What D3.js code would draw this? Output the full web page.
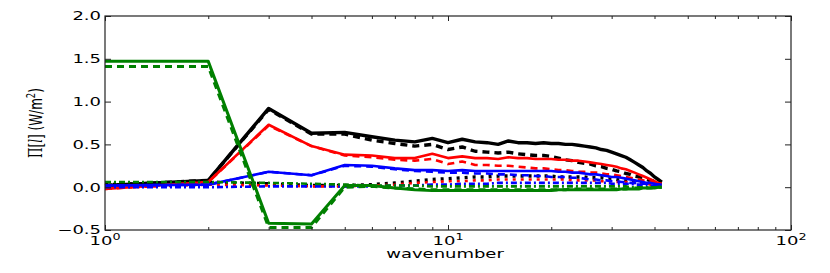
<!DOCTYPE html>
<html>
<head>
<meta charset="utf-8">
<script src="https://cdn.jsdelivr.net/npm/d3@7"></script>
<style>
  html, body { margin: 0; padding: 0; background: #fff; }
  svg { display: block; }
  text { font-family: "DejaVu Sans", sans-serif; fill: #000; }
</style>
</head>
<body>
<svg id="chart" width="830" height="273"></svg>
<script>
// ---------------- data ----------------
const wavenumbers = d3.range(1, 43); // 1..42

const blackSolid = [0.02,0.08,0.92,0.63,0.64,0.59,0.55,0.53,0.57,0.52,0.56,0.53,0.52,0.50,0.54,0.52,0.52,0.51,0.52,0.51,0.51,0.50,0.50,0.49,0.48,0.47,0.46,0.44,0.43,0.41,0.39,0.37,0.35,0.32,0.29,0.26,0.23,0.19,0.16,0.12,0.09,0.06];
const blackDashed = [0.02,0.08,0.91,0.62,0.62,0.55,0.51,0.48,0.50,0.44,0.47,0.42,0.41,0.40,0.41,0.39,0.38,0.37,0.37,0.36,0.34,0.32,0.31,0.29,0.28,0.27,0.25,0.24,0.22,0.21,0.19,0.18,0.16,0.15,0.13,0.12,0.11,0.09,0.08,0.07,0.06,0.05];
const blackDotted = [0.03,0.06,0.04,0.02,0.02,0.03,0.05,0.07,0.09,0.10,0.11,0.12,0.12,0.13,0.13,0.13,0.13,0.13,0.13,0.13,0.12,0.12,0.12,0.12,0.12,0.11,0.11,0.11,0.10,0.10,0.09,0.09,0.08,0.08,0.07,0.06,0.06,0.05,0.05,0.04,0.04,0.03];

const redSolid = [-0.02,0.06,0.73,0.48,0.38,0.37,0.34,0.34,0.39,0.34,0.36,0.34,0.34,0.33,0.35,0.34,0.34,0.33,0.33,0.33,0.32,0.32,0.31,0.31,0.30,0.29,0.28,0.27,0.26,0.25,0.24,0.22,0.21,0.19,0.17,0.15,0.13,0.11,0.09,0.07,0.05,0.04];
const redDashed = [-0.02,0.06,0.72,0.48,0.37,0.35,0.32,0.31,0.33,0.27,0.30,0.26,0.26,0.25,0.25,0.24,0.23,0.22,0.22,0.21,0.20,0.20,0.19,0.18,0.18,0.17,0.17,0.16,0.15,0.15,0.14,0.13,0.12,0.11,0.10,0.09,0.08,0.07,0.06,0.05,0.04,0.04];
const redDotted = [-0.01,0.03,0.02,0.01,0.01,0.02,0.03,0.05,0.06,0.07,0.07,0.08,0.08,0.09,0.09,0.09,0.09,0.09,0.09,0.09,0.09,0.09,0.08,0.08,0.08,0.08,0.08,0.07,0.07,0.07,0.06,0.06,0.06,0.05,0.05,0.05,0.04,0.04,0.03,0.03,0.03,0.02];

const blueSolid = [0.02,0.03,0.18,0.14,0.26,0.25,0.22,0.20,0.20,0.19,0.20,0.19,0.19,0.19,0.19,0.19,0.19,0.19,0.19,0.19,0.18,0.18,0.17,0.17,0.16,0.15,0.15,0.14,0.13,0.12,0.12,0.11,0.10,0.09,0.08,0.07,0.06,0.05,0.05,0.04,0.03,0.03];
const blueDashed = [0.02,0.03,0.18,0.14,0.25,0.24,0.21,0.19,0.18,0.17,0.17,0.16,0.16,0.15,0.15,0.14,0.14,0.13,0.13,0.12,0.12,0.12,0.11,0.11,0.10,0.09,0.09,0.08,0.08,0.07,0.07,0.06,0.06,0.05,0.05,0.05,0.04,0.04,0.04,0.03,0.03,0.03];
const blueDotted = [0.00,0.00,0.01,0.01,0.01,0.01,0.02,0.02,0.03,0.03,0.04,0.04,0.04,0.05,0.05,0.05,0.05,0.05,0.05,0.05,0.05,0.05,0.05,0.05,0.05,0.05,0.05,0.05,0.05,0.04,0.04,0.04,0.04,0.04,0.03,0.03,0.03,0.03,0.02,0.02,0.02,0.02];

const greenSolid = [1.47,1.47,-0.42,-0.43,0.02,0.02,-0.01,-0.03,-0.04,-0.04,-0.04,-0.04,-0.04,-0.04,-0.04,-0.04,-0.04,-0.04,-0.04,-0.04,-0.03,-0.03,-0.03,-0.03,-0.03,-0.03,-0.03,-0.03,-0.03,-0.03,-0.03,-0.02,-0.02,-0.02,-0.02,-0.02,-0.01,-0.01,-0.01,-0.01,0.00,0.00];
const greenDashed = [1.41,1.41,-0.47,-0.47,0.00,0.01,-0.01,-0.02,-0.03,-0.03,-0.03,-0.03,-0.03,-0.03,-0.03,-0.03,-0.03,-0.03,-0.03,-0.03,-0.03,-0.03,-0.02,-0.02,-0.02,-0.02,-0.02,-0.02,-0.02,-0.02,-0.02,-0.02,-0.02,-0.01,-0.01,-0.01,-0.01,-0.01,-0.01,0.00,0.00,0.00];
const greenDotted = [0.06,0.06,0.05,0.04,0.03,0.02,0.02,0.02,0.01,0.01,0.01,0.01,0.01,0.01,0.01,0.01,0.01,0.01,0.01,0.01,0.01,0.01,0.01,0.01,0.01,0.01,0.01,0.01,0.01,0.01,0.01,0.01,0.01,0.00,0.00,0.00,0.00,0.00,0.00,0.00,0.00,0.00];

const xMajorTicks = [1, 10, 100];
const xMajorExp = ["0", "1", "2"];
const xMinorTicks = [2,3,4,5,6,7,8,9,20,30,40,50,60,70,80,90];
const yTicks = [-0.5, 0.0, 0.5, 1.0, 1.5, 2.0];
const yTickLabels = ["\u22120.5", "0.0", "0.5", "1.0", "1.5", "2.0"];

const seriesList = [
  { values: blackSolid,  color: "#000000", width: 3.4, dash: null },
  { values: blackDashed, color: "#000000", width: 3.4, dash: "7,5" },
  { values: blackDotted, color: "#000000", width: 3.4, dash: "3,5" },
  { values: redSolid,    color: "#ff0000", width: 2.6, dash: null },
  { values: redDashed,   color: "#ff0000", width: 2.6, dash: "7,5" },
  { values: redDotted,   color: "#ff0000", width: 2.6, dash: "3,5" },
  { values: blueSolid,   color: "#0000ff", width: 2.6, dash: null },
  { values: blueDashed,  color: "#0000ff", width: 2.6, dash: "7,5" },
  { values: blueDotted,  color: "#0000ff", width: 2.6, dash: "6,3,2,3" },
  { values: greenSolid,  color: "#008000", width: 3.0, dash: null },
  { values: greenDashed, color: "#008000", width: 3.0, dash: "7,5" },
  { values: greenDotted, color: "#008000", width: 2.6, dash: "6,3,2,3" }
];

// ---------------- layout ----------------
const L = 105, R = 791, T = 16, B = 230;
const SX = 1.5; // horizontal stretch of text in reference
const svg = d3.select("#chart");

const x = d3.scaleLog().domain([1, 100]).range([L, R]);
const y = d3.scaleLinear().domain([-0.5, 2.0]).range([B, T]);

// lines
const plot = svg.append("g");
const line = d3.line().x((d, i) => x(wavenumbers[i])).y(d => y(d));
seriesList.forEach(s => {
  plot.append("path")
    .attr("d", line(s.values))
    .attr("fill", "none")
    .attr("stroke", s.color)
    .attr("stroke-width", s.width)
    .attr("stroke-linejoin", "round")
    .attr("stroke-dasharray", s.dash);
});

// axes (ticks inside)
const axColor = "#222";
function styleAxis(g) {
  g.select(".domain").remove();
  g.selectAll("line").attr("stroke", axColor).attr("stroke-width", 1);
  g.selectAll("text").remove();
}
svg.append("g").attr("transform", `translate(0,${B})`)
  .call(d3.axisBottom(x).tickValues(xMajorTicks).tickSize(-5).tickSizeOuter(0)).call(styleAxis);
svg.append("g").attr("transform", `translate(0,${B})`)
  .call(d3.axisBottom(x).tickValues(xMinorTicks).tickSize(-3).tickSizeOuter(0)).call(styleAxis);
svg.append("g").attr("transform", `translate(0,${T})`)
  .call(d3.axisTop(x).tickValues(xMajorTicks).tickSize(-5).tickSizeOuter(0)).call(styleAxis);
svg.append("g").attr("transform", `translate(0,${T})`)
  .call(d3.axisTop(x).tickValues(xMinorTicks).tickSize(-3).tickSizeOuter(0)).call(styleAxis);
svg.append("g").attr("transform", `translate(${L},0)`)
  .call(d3.axisLeft(y).tickValues(yTicks).tickSize(-6).tickSizeOuter(0)).call(styleAxis);
svg.append("g").attr("transform", `translate(${R},0)`)
  .call(d3.axisRight(y).tickValues(yTicks).tickSize(-6).tickSizeOuter(0)).call(styleAxis);

// frame
svg.append("rect")
  .attr("x", L).attr("y", T).attr("width", R - L).attr("height", B - T)
  .attr("fill", "none").attr("stroke", axColor).attr("stroke-width", 1.2);

// y tick labels
yTicks.forEach((v, i) => {
  svg.append("text")
    .attr("transform", `translate(${L - 4},${y(v) + 4.3}) scale(${SX},1)`)
    .attr("text-anchor", "end")
    .attr("font-size", 12)
    .text(yTickLabels[i]);
});

// x tick labels 10^n
xMajorTicks.forEach((v, i) => {
  const t = svg.append("text")
    .attr("transform", `translate(${x(v)},${B + 15}) scale(${SX},1)`)
    .attr("text-anchor", "middle")
    .attr("font-size", 12);
  t.append("tspan").text("10");
  t.append("tspan").attr("font-size", 8.5).attr("dy", -5).text(xMajorExp[i]);
});

// x label
svg.append("text")
  .attr("transform", `translate(${(L + R) / 2 - 3},${B + 28}) scale(${SX},1)`)
  .attr("text-anchor", "middle")
  .attr("font-size", 12)
  .text("wavenumber");

// y label: Π[l] (W/m²)
const yl = svg.append("text")
  .attr("transform", `translate(42,${(T + B) / 2}) scale(${SX},1) rotate(-90)`)
  .attr("text-anchor", "middle")
  .attr("font-size", 12);
yl.append("tspan").attr("font-family", "DejaVu Serif").text("\u03A0[");
yl.append("tspan").attr("font-family", "DejaVu Serif").attr("font-style", "italic").text("l");
yl.append("tspan").attr("font-family", "DejaVu Serif").text("]");
yl.append("tspan").text(" (W/m");
yl.append("tspan").attr("font-size", 8.5).attr("dy", -5).text("2");
yl.append("tspan").attr("dy", 5).text(")");
</script>
</body>
</html>
